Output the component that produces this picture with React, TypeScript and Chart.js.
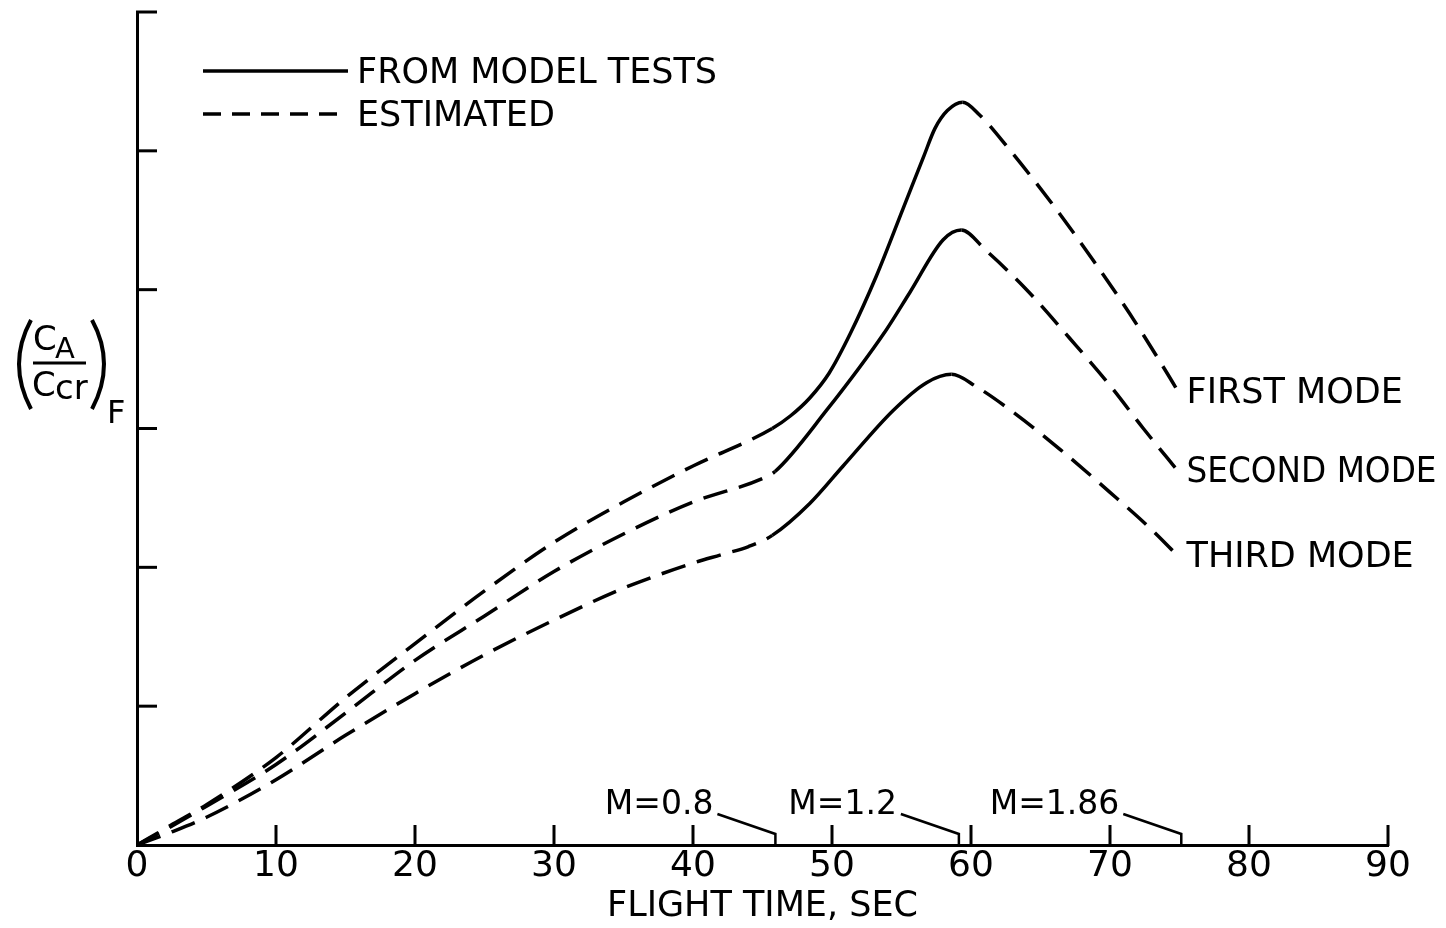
import React, { useEffect, useRef } from 'react';
import { Chart, registerables } from 'chart.js';

Chart.register(...registerables);

const FONT = '"DejaVu Sans", "Liberation Sans", sans-serif';

// ---- data ----
const X_TICK_VALUES = [0, 10, 20, 30, 40, 50, 60, 70, 80, 90];
const Y_TICK_VALUES = [0, 1, 2, 3, 4, 5, 6];
const X_TITLE = 'FLIGHT TIME, SEC';

const MODE_NAMES = ['FIRST MODE', 'SECOND MODE', 'THIRD MODE'];

const FIRST_T = [0, 2.4, 5, 10, 15, 20, 25, 30, 35, 40, 45.7, 47, 48.4, 49.8, 51.3, 53.2, 55.1, 56.6, 57.4, 58.3, 59.4, 60.6, 62.6, 65.9, 68.8, 71.4, 74.1, 75.0];
const FIRST_V = [0, 0.14, 0.29, 0.63, 1.06, 1.45, 1.83, 2.18, 2.47, 2.73, 3.0, 3.09, 3.22, 3.4, 3.68, 4.1, 4.58, 4.96, 5.16, 5.29, 5.35, 5.26, 5.03, 4.61, 4.21, 3.83, 3.4, 3.25];

const SECOND_T = [0, 2.4, 5, 10, 15, 20, 25, 30, 35, 40, 45, 45.9, 49.6, 53.9, 55.6, 58.0, 59.3, 61.1, 64.0, 67.1, 70.0, 72.4, 75.0];
const SECOND_V = [0, 0.13, 0.28, 0.58, 0.95, 1.33, 1.65, 1.97, 2.24, 2.47, 2.64, 2.69, 3.13, 3.71, 3.98, 4.36, 4.43, 4.28, 4.0, 3.65, 3.31, 3.0, 2.68];

const THIRD_T = [0, 2.4, 5, 10, 15, 20, 25, 30, 35, 40, 42, 44, 45.7, 48.4, 50.8, 54.4, 56.8, 58.6, 60.4, 63.0, 66.4, 70.0, 72.9, 75.0];
const THIRD_V = [0, 0.09, 0.2, 0.47, 0.79, 1.09, 1.37, 1.62, 1.85, 2.03, 2.09, 2.15, 2.23, 2.46, 2.73, 3.13, 3.33, 3.39, 3.3, 3.12, 2.85, 2.54, 2.28, 2.07];

// range (flight time) measured in model tests -> solid; elsewhere estimated -> dashed
const SOLID_START = [45.7, 45.9, 45.7];
const SOLID_END = [59.4, 59.3, 58.6];

const MACH_LABELS = ['M=0.8', 'M=1.2', 'M=1.86'];
const MACH_TIMES = [46.0, 59.2, 75.2];

const LEGEND_LABELS = ['FROM MODEL TESTS', 'ESTIMATED'];

const DASH = [25, 12];

function toPoints(t: number[], v: number[]) {
  return t.map((tt, i) => ({ x: tt, y: v[i] }));
}

const SERIES = [
  toPoints(FIRST_T, FIRST_V),
  toPoints(SECOND_T, SECOND_V),
  toPoints(THIRD_T, THIRD_V),
];

const decorPlugin = {
  id: 'decor',
  afterDraw(chart: any) {
    const { ctx, chartArea, scales } = chart;
    const xs = scales.x;
    const ys = scales.y;
    const bottom = chartArea.bottom;
    const left = chartArea.left;
    ctx.save();
    ctx.strokeStyle = '#000';
    ctx.fillStyle = '#000';
    ctx.lineCap = 'butt';

    // inward tick marks
    ctx.lineWidth = 3;
    ctx.setLineDash([]);
    for (const v of X_TICK_VALUES) {
      if (v === 0) continue;
      const px = xs.getPixelForValue(v);
      ctx.beginPath();
      ctx.moveTo(px, bottom + 1);
      ctx.lineTo(px, bottom - 20);
      ctx.stroke();
    }
    for (const v of Y_TICK_VALUES) {
      if (v === 0) continue;
      const py = ys.getPixelForValue(v);
      ctx.beginPath();
      ctx.moveTo(left - 1, py);
      ctx.lineTo(left + 20, py);
      ctx.stroke();
    }

    // legend
    ctx.lineWidth = 3.5;
    ctx.beginPath();
    ctx.moveTo(203, 71);
    ctx.lineTo(348, 71);
    ctx.stroke();
    ctx.setLineDash([18, 11]);
    ctx.beginPath();
    ctx.moveTo(203, 114);
    ctx.lineTo(348, 114);
    ctx.stroke();
    ctx.setLineDash([]);
    ctx.font = `35px ${FONT}`;
    ctx.textBaseline = 'middle';
    ctx.textAlign = 'left';
    ctx.fillText(LEGEND_LABELS[0], 357, 74);
    ctx.fillText(LEGEND_LABELS[1], 357, 117);

    // mode labels at curve ends
    chart.data.datasets.forEach((ds: any, i: number) => {
      const meta = chart.getDatasetMeta(i);
      const last = meta.data[meta.data.length - 1];
      ctx.font = `35px ${FONT}`;
      ctx.textAlign = 'left';
      ctx.textBaseline = 'middle';
      ctx.fillText(ds.label, last.x + 7, last.y, 250);
    });

    // Mach number marks
    ctx.lineWidth = 2.5;
    MACH_TIMES.forEach((t, i) => {
      const px = xs.getPixelForValue(t);
      ctx.beginPath();
      ctx.moveTo(px - 59, bottom - 31);
      ctx.lineTo(px - 1, bottom - 11);
      ctx.lineTo(px - 1, bottom);
      ctx.stroke();
      ctx.font = `33px ${FONT}`;
      ctx.textAlign = 'right';
      ctx.textBaseline = 'middle';
      ctx.fillText(MACH_LABELS[i], px - 63, bottom - 40);
    });

    // y axis label (C_A / C_cr)_F
    ctx.lineWidth = 4;
    ctx.beginPath();
    ctx.moveTo(31, 320);
    ctx.quadraticCurveTo(7, 364, 31, 409);
    ctx.stroke();
    ctx.beginPath();
    ctx.moveTo(92, 320);
    ctx.quadraticCurveTo(116, 364, 92, 409);
    ctx.stroke();
    ctx.textAlign = 'left';
    ctx.textBaseline = 'alphabetic';
    ctx.font = `34px ${FONT}`;
    ctx.fillText('C', 33, 350);
    ctx.font = `29px ${FONT}`;
    ctx.fillText('A', 55, 358);
    ctx.lineWidth = 3;
    ctx.beginPath();
    ctx.moveTo(33, 363);
    ctx.lineTo(86, 363);
    ctx.stroke();
    ctx.font = `34px ${FONT}`;
    ctx.fillText('C', 32, 396);
    ctx.font = `34px ${FONT}`;
    ctx.fillText('cr', 55, 399);
    ctx.font = `32px ${FONT}`;
    ctx.fillText('F', 107, 423);

    ctx.restore();
  },
};

export default function App() {
  const canvasRef = useRef<HTMLCanvasElement | null>(null);

  useEffect(() => {
    const canvas = canvasRef.current;
    if (!canvas) return;
    const datasets = SERIES.map((pts, i) => ({
      label: MODE_NAMES[i],
      data: pts,
      borderColor: '#000',
      backgroundColor: '#000',
      borderWidth: 3.5,
      pointRadius: 0,
      fill: false,
      cubicInterpolationMode: 'monotone' as const,
      segment: {
        borderDash: (c: any) => {
          const a = c.p0.parsed.x;
          const b = c.p1.parsed.x;
          return a >= SOLID_START[i] - 1e-6 && b <= SOLID_END[i] + 1e-6 ? [] : DASH;
        },
      },
    }));

    const chart = new Chart(canvas, {
      type: 'line',
      data: { datasets },
      options: {
        responsive: false,
        animation: false,
        devicePixelRatio: 1,
        layout: { padding: { left: 137, right: 58, top: 12, bottom: 0 } },
        plugins: {
          legend: { display: false },
          tooltip: { enabled: false },
        },
        scales: {
          x: {
            type: 'linear',
            min: 0,
            max: 90,
            afterBuildTicks: (s: any) => {
              s.ticks = X_TICK_VALUES.map((v) => ({ value: v }));
            },
            afterFit: (s: any) => {
              s.height = 83;
            },
            grid: { display: false, drawTicks: false },
            border: { display: true, color: '#000', width: 3 },
            ticks: {
              color: '#000',
              font: { family: FONT, size: 36, lineHeight: 1.2 },
              padding: 0,
              maxRotation: 0,
              autoSkip: false,
            },
            title: {
              display: true,
              text: X_TITLE,
              color: '#000',
              font: { family: FONT, size: 35, lineHeight: 1.2 },
              padding: { top: 0, bottom: 0 },
            },
          },
          y: {
            type: 'linear',
            min: 0,
            max: 6,
            afterBuildTicks: (s: any) => {
              s.ticks = Y_TICK_VALUES.map((v) => ({ value: v }));
            },
            afterFit: (s: any) => {
              s.width = 0;
            },
            grid: { display: false, drawTicks: false },
            border: { display: true, color: '#000', width: 3 },
            ticks: { display: false },
          },
        },
      },
      plugins: [decorPlugin],
    });
    return () => chart.destroy();
  }, []);

  return (
    <div style={{ position: 'fixed', left: 0, top: 0, width: 1446, height: 928, background: '#fff' }}>
      <canvas ref={canvasRef} width={1446} height={928} style={{ display: 'block' }} />
    </div>
  );
}
